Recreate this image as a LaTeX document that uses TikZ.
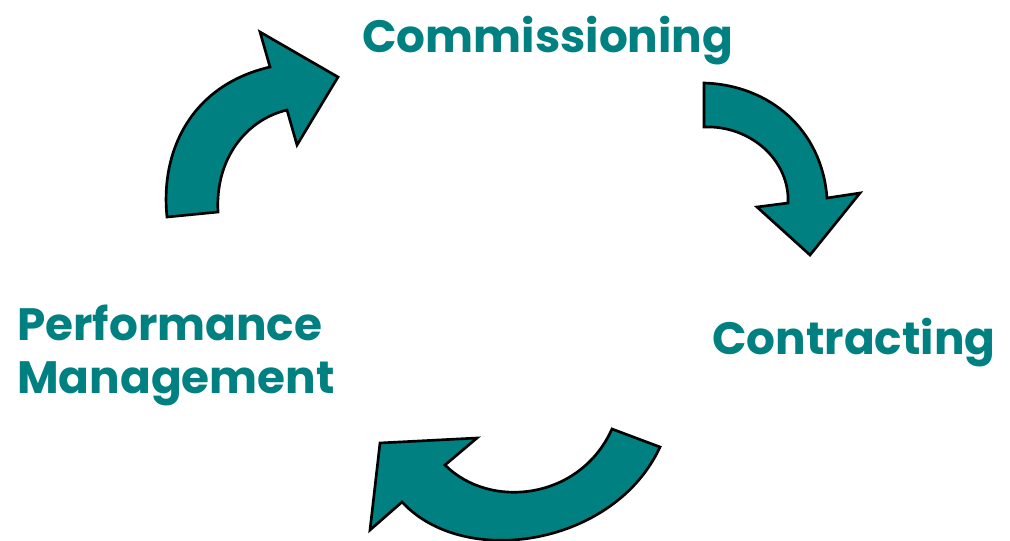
\documentclass[tikz,border=0pt]{standalone}
\usepackage{fontspec}
\setmainfont{Poppins}
\usepackage{tikz}
\definecolor{tealfill}{RGB}{0,128,128}
\begin{document}
\begin{tikzpicture}[x=0.75pt,y=-0.75pt,
	blockarrow/.style={fill=tealfill,draw=black,line width=2pt,line join=miter},
	stage/.style={anchor=base west,inner sep=0pt,text=tealfill,font=\fontsize{34}{42}\selectfont\bfseries}]
		\useasboundingbox (0,0) rectangle (1010,540);
		% stages
		\node[stage] (comm) at (362,52) {Commissioning};
		\node[stage] (contr) at (712,354) {Contracting};
		\node[stage] (perf) at (17,340) {Performance};
		\node[stage] (mgmt) at (17,393) {Management};
		% arrows
		\draw[blockarrow] (167,217) .. controls (160,150) and (192,85) .. (270,67) -- (260,32) -- (338,77) -- (297,145) -- (287,110) .. controls (245,120) and (215,160) .. (218,212) -- cycle;
		\draw[blockarrow] (704,83) .. controls (770,85) and (822,130) .. (827,198) -- (860,193) -- (810,255) -- (757,207) -- (788,203) .. controls (790,160) and (750,125) .. (704,127) -- cycle;
		\draw[blockarrow] (660,447) .. controls (615,545) and (465,570) .. (402,502) -- (370,530) -- (380,443) -- (477,438) -- (445,465) .. controls (490,510) and (580,500) .. (612,429) -- cycle;
		\end{tikzpicture}
\end{document}
